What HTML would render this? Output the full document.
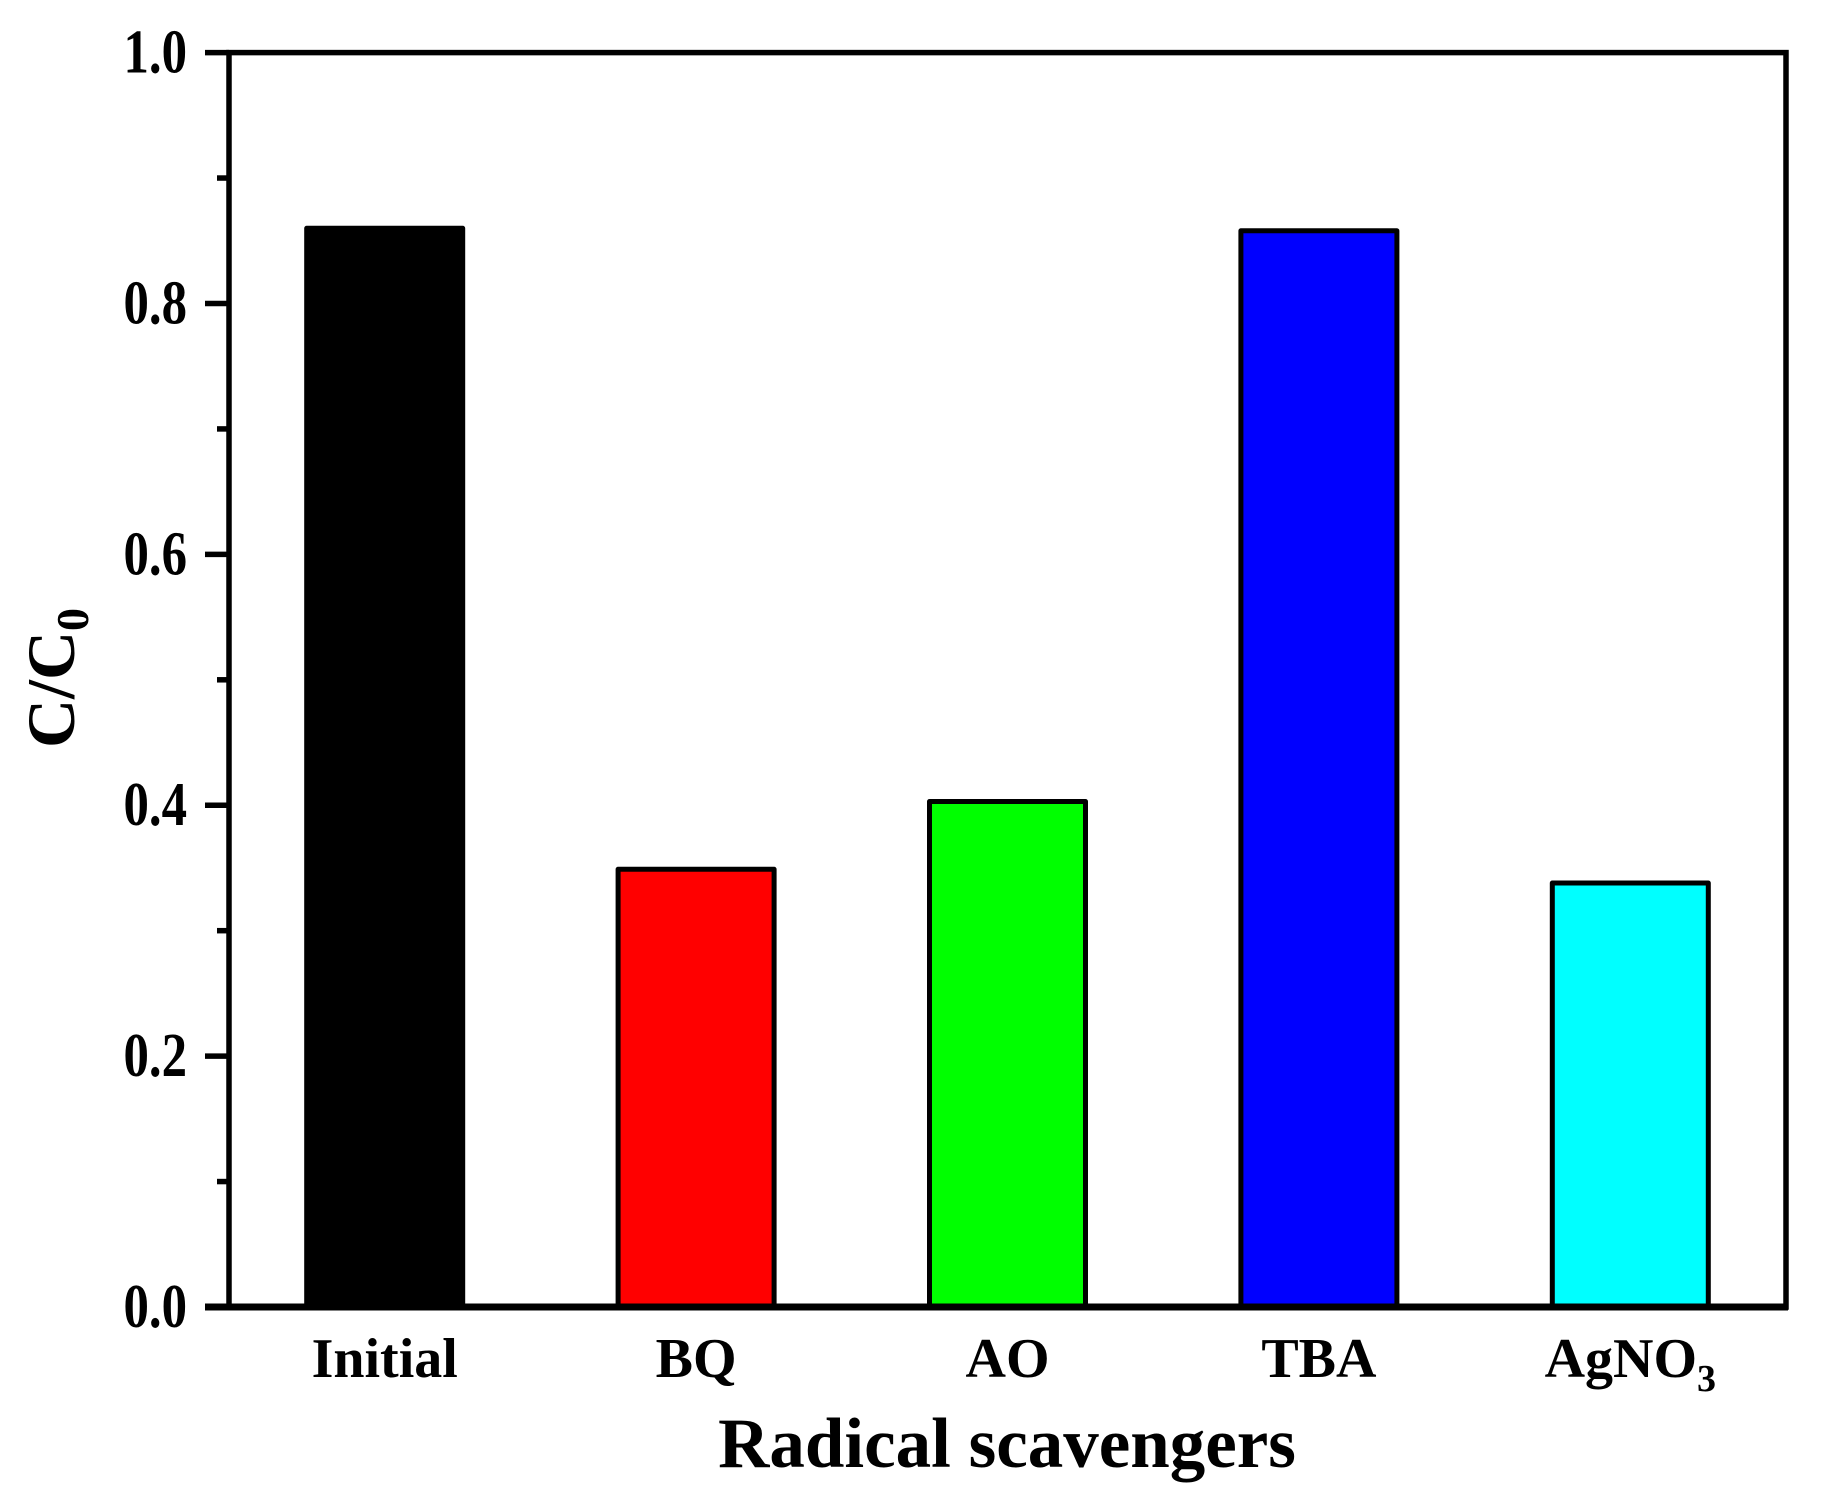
<!DOCTYPE html>
<html><head><meta charset="utf-8"><style>
html,body{margin:0;padding:0;background:#fff;}
svg{display:block;font-family:"Liberation Serif",serif;font-weight:bold;}
</style></head><body>
<svg id="chart" width="1833" height="1510" viewBox="0 0 1833 1510">
<g id="bars"></g>
<g id="axes"></g>
<text x="1007" y="1467" font-size="71" text-anchor="middle">Radical scavengers</text>
<text transform="translate(74,678) rotate(-90)" font-size="68" text-anchor="middle">C/C<tspan font-size="46" dy="14">0</tspan></text>
</svg>
<script>
const categories = ["Initial","BQ","AO","TBA","AgNO3"];
const values = [0.860, 0.349, 0.403, 0.858, 0.338];
const colors = ["#000000","#ff0000","#00ff00","#0000ff","#00ffff"];
const yTicks = [0.0,0.2,0.4,0.6,0.8,1.0];
const yTickLabels = ["0.0","0.2","0.4","0.6","0.8","1.0"];
const NS="http://www.w3.org/2000/svg";
const L=229,R=1786,T=52.6,B=1307;
function y(v){return B-(v-0)/(1-0)*(B-T);}
function x(i){return L+(i+0.5)*(R-L)/categories.length;}
const bw=156;
function mk(tag,attrs,parent){const e=document.createElementNS(NS,tag);for(const k in attrs)e.setAttribute(k,attrs[k]);parent.appendChild(e);return e;}
const bars=document.getElementById('bars'), axes=document.getElementById('axes'), svg=document.getElementById('chart');
values.forEach((v,i)=>{
  const r=mk('rect',{x:x(i)-bw/2,y:y(v),width:bw,height:B-y(v),fill:colors[i],stroke:'#000','stroke-width':5,'stroke-linejoin':'round'},bars);
  
  
  const t=mk('text',{x:x(i),y:1377,'font-size':56,'text-anchor':'middle'},svg);
  
  
  if(categories[i]==="AgNO3"){t.innerHTML='AgNO<tspan font-size="38" dy="14">3</tspan>';}
  else t.textContent=categories[i];
});
const frame=mk('rect',{x:L,y:T,width:R-L,height:B-T,fill:'none',stroke:'#000','stroke-width':5.5},axes);


const bl=mk('line',{x1:L-24,y1:B,x2:R+2,y2:B,stroke:'#000','stroke-width':7},axes);


yTicks.forEach((v,i)=>{
  const tk=mk('line',{x1:L-24,y1:y(v),x2:L,y2:y(v),stroke:'#000','stroke-width':5.5},axes);
  
  
  const t=mk('text',{transform:'translate(187,'+(y(v)+20)+') scale(0.82,1)','font-size':62,'text-anchor':'end'},svg);
  
  
  t.textContent=yTickLabels[i];
  if(i<yTicks.length-1){
    const mv=(v+yTicks[i+1])/2;
    const m=mk('line',{x1:L-12,y1:y(mv),x2:L,y2:y(mv),stroke:'#000','stroke-width':5.5},axes);
    
    
  }
});
</script>
</body></html>
